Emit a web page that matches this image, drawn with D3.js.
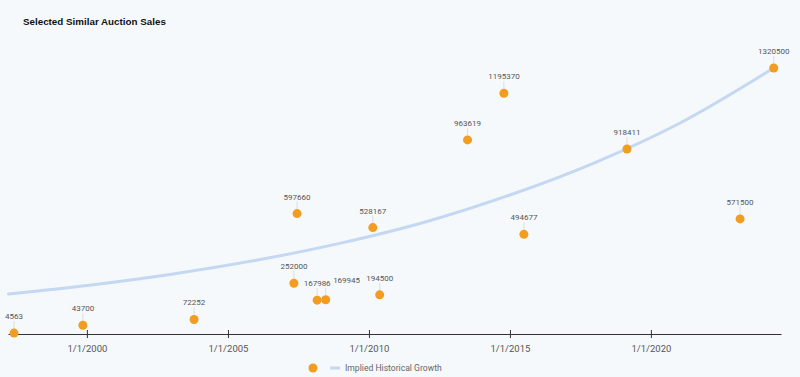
<!DOCTYPE html>
<html>
<head>
<meta charset="utf-8">
<script src="https://cdn.jsdelivr.net/npm/d3@7"></script>
<style>
  body { margin: 0; background: #f5f9fc; }
  #chart { width: 800px; height: 377px; }
</style>
</head>
<body>
<div id="chart"></div>
<script>
const width = 800;
const height = 377;

// Auction sales (date, price)
const saleDates = ["1997-06-01", "1999-11-10", "2003-10-20", "2007-05-05", "2007-06-15",
    "2008-03-01", "2008-06-20", "2010-02-20", "2010-05-20", "2013-07-01",
    "2014-10-15", "2015-07-01", "2019-02-25", "2023-03-01", "2024-05-10"];
const salePrices = [4563, 43700, 72252, 252000, 597660,
    167986, 169945, 528167, 194500, 963619,
    1195370, 494677, 918411, 571500, 1320500];

// Implied historical growth curve
const growthDates = ["1997-03-20", "2000-01-01", "2003-01-01", "2006-01-01", "2009-01-01",
    "2012-01-01", "2015-01-01", "2018-01-01", "2021-01-01", "2024-05-10"];
const growthValues = [199000, 241000, 297000, 366000, 451000,
    556000, 690000, 850000, 1045000, 1320500];

const tickDates = ["2000-01-01", "2005-01-01", "2010-01-01", "2015-01-01", "2020-01-01"];

const parse = d3.timeParse("%Y-%m-%d");
const sales = saleDates.map((d, i) => ({ date: parse(d), value: salePrices[i] }));
const growth = growthDates.map((d, i) => ({ date: parse(d), value: growthValues[i] }));

const svg = d3.select("#chart")
    .append("svg")
    .attr("width", width)
    .attr("height", height);

svg.append("rect")
    .attr("width", width)
    .attr("height", height)
    .attr("fill", "#f5f9fc");

// Title
svg.append("text")
    .attr("x", 23)
    .attr("y", 25)
    .style("font-family", "Liberation Sans, Arial, sans-serif")
    .style("font-size", "9.8px")
    .style("font-weight", "bold")
    .style("fill", "#111")
    .text("Selected Similar Auction Sales");

const x = d3.scaleTime()
    .domain([parse("1997-03-15"), parse("2024-08-12")])
    .range([8, 781]);

const y = d3.scaleLinear()
    .domain([0, 1400000])
    .range([334, 52]);

// Growth line
const line = d3.line()
    .x(d => x(d.date))
    .y(d => y(d.value))
    .curve(d3.curveMonotoneX);

svg.append("path")
    .datum(growth)
    .attr("d", line)
    .attr("fill", "none")
    .attr("stroke", "#c4d8f2")
    .attr("stroke-width", 3)
    .attr("stroke-linecap", "round");

// X axis
const xAxis = d3.axisBottom(x)
    .tickValues(tickDates.map(parse))
    .tickFormat(d3.timeFormat("%-m/%-d/%Y"))
    .tickSizeInner(4)
    .tickSizeOuter(0);

const axisG = svg.append("g")
    .attr("transform", `translate(0,${y(0)})`)
    .call(xAxis);

axisG.select(".domain").attr("stroke", "#333");
axisG.selectAll(".tick line")
    .attr("stroke", "#333")
    .attr("y1", -4)
    .attr("y2", 4);
axisG.selectAll(".tick text")
    .attr("y", 11)
    .style("font-family", "Roboto, sans-serif")
    .style("font-size", "9.5px")
    .style("fill", "#555");

// Leader lines and labels
const labelG = svg.append("g");
labelG.selectAll("line")
    .data(sales)
    .enter()
    .append("line")
    .attr("x1", d => x(d.date))
    .attr("x2", d => x(d.date))
    .attr("y1", d => y(d.value) - 12)
    .attr("y2", d => y(d.value) - 4)
    .attr("stroke", "#ddd")
    .attr("stroke-width", 1);

const labels = labelG.selectAll("text")
    .data(sales)
    .enter()
    .append("text")
    .attr("x", d => x(d.date))
    .attr("y", d => y(d.value) - 14)
    .style("text-anchor", "middle")
    .style("font-family", "Roboto, sans-serif")
    .style("font-size", "8px")
    .style("fill", "#555")
    .text(d => d.value);

// Simple collision nudge: push an overlapping label right and up a bit
const placed = [];
labels.sort((a, b) => a.date - b.date).each(function () {
    const el = d3.select(this);
    let b = this.getBBox();
    for (const p of placed) {
        if (b.x < p.x + p.width && b.x + b.width > p.x &&
            b.y < p.y + p.height && b.y + b.height > p.y) {
            const shift = p.x + p.width + 2 - b.x;
            el.attr("x", +el.attr("x") + shift).attr("y", +el.attr("y") - 3);
            b = this.getBBox();
        }
    }
    placed.push(b);
});

// Points
svg.append("g")
    .selectAll("circle")
    .data(sales)
    .enter()
    .append("circle")
    .attr("cx", d => x(d.date))
    .attr("cy", d => y(d.value))
    .attr("r", 4.5)
    .attr("fill", "#f29d21");

// Legend
const legend = svg.append("g");
legend.append("circle")
    .attr("cx", 313)
    .attr("cy", 368)
    .attr("r", 4.5)
    .attr("fill", "#f29d21");
legend.append("line")
    .attr("x1", 330)
    .attr("x2", 340)
    .attr("y1", 368)
    .attr("y2", 368)
    .attr("stroke", "#c4d8f2")
    .attr("stroke-width", 3);
legend.append("text")
    .attr("x", 345)
    .attr("y", 371)
    .style("font-family", "Roboto, sans-serif")
    .style("font-size", "8.6px")
    .style("fill", "#666")
    .text("Implied Historical Growth");
</script>
</body>
</html>
